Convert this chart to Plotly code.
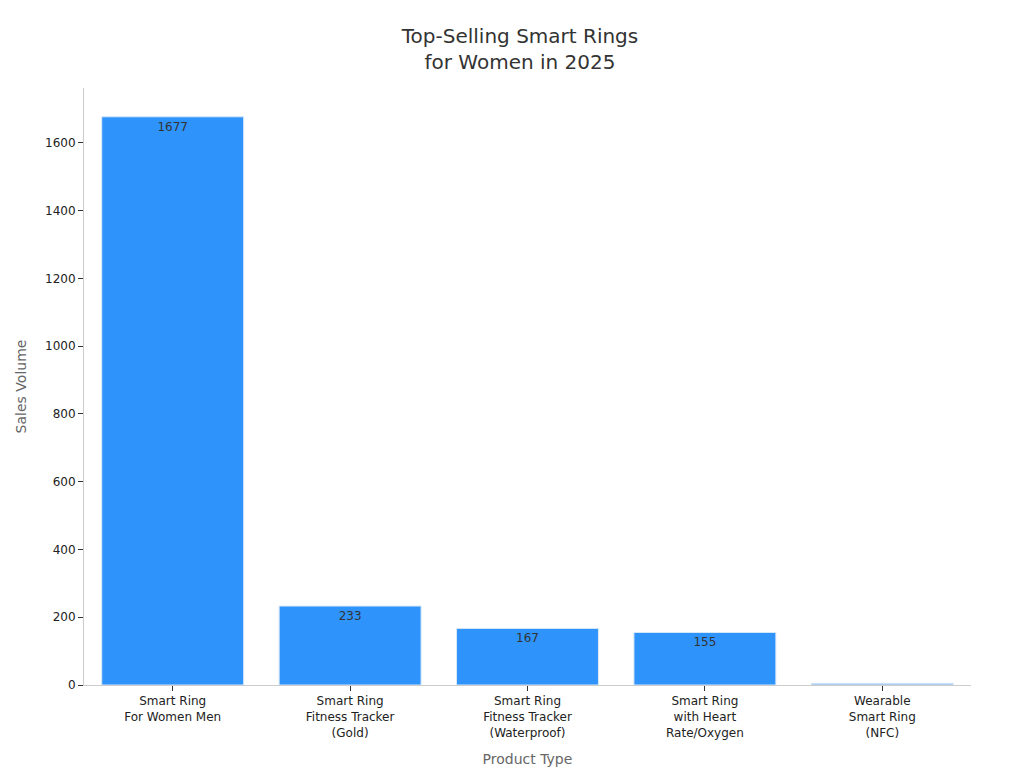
import plotly.graph_objects as go

categories = ["Smart Ring<br>For Women Men", "Smart Ring<br>Fitness Tracker<br>(Gold)",
              "Smart Ring<br>Fitness Tracker<br>(Waterproof)", "Smart Ring<br>with Heart<br>Rate/Oxygen",
              "Wearable<br>Smart Ring<br>(NFC)"]
values = [1677, 233, 167, 155, 5]
labels = ["1677", "233", "167", "155", ""]
colors = ["#2E93FA", "#2E93FA", "#2E93FA", "#2E93FA", "#7FB6EE"]

fig = go.Figure(go.Bar(
    x=categories, y=values, text=labels, textposition="inside", insidetextanchor="end",
    textfont=dict(color="#333333", size=12), marker=dict(color=colors, line=dict(color="#d8e8f8", width=1)),
    width=0.8,
))
fig.update_layout(
    width=1024, height=768, template="simple_white",
    font=dict(family="DejaVu Sans", color="#222222"),
    title=dict(text="Top-Selling Smart Rings<br>for Women in 2025", x=0.5, xanchor="center", y=0.955,
               font=dict(size=20, color="#333333")),
    margin=dict(l=76, r=61, t=80, b=91),
    xaxis=dict(title=dict(text="Product Type", font=dict(size=14, color="#666666")), tickfont=dict(size=12),
               linecolor="#cccccc", ticks="outside", tickcolor="#333333", ticklen=5),
    yaxis=dict(title=dict(text="Sales Volume", font=dict(size=14, color="#666666")), range=[0, 1762],
               tickfont=dict(size=12), linecolor="#cccccc", ticks="outside", tickcolor="#333333",
               dtick=200, ticklen=5),
    bargap=0.2, showlegend=False,
)
fig.update_traces(cliponaxis=False)
fig.write_html("out.html")
